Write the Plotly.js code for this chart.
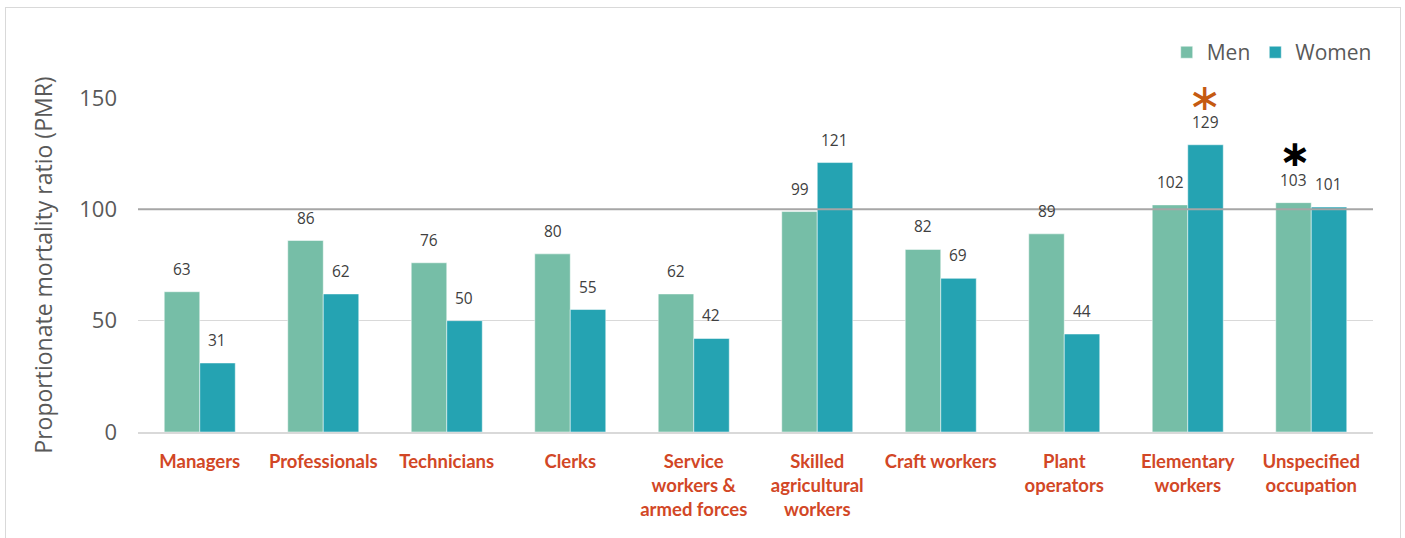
<!DOCTYPE html>
<html>
<head>
<meta charset="utf-8">
<script src="https://cdn.plot.ly/plotly-3.0.1.min.js"></script>
<style>
html,body{margin:0;padding:0;background:#fff;}
#chart{width:1405px;height:538px;}
#frame{position:absolute;left:5px;top:7px;width:1394px;height:540px;border:1px solid #d9d9d9;pointer-events:none;}
</style>
</head>
<body>
<div id="chart"></div>
<div id="frame"></div>
<script>
const categories = ["Managers","Professionals","Technicians","Clerks","Service<br>workers &amp;<br>armed forces","Skilled<br>agricultural<br>workers","Craft workers","Plant<br>operators","Elementary<br>workers","Unspecified<br>occupation"];
const men = [63,86,76,80,62,99,82,89,102,103];
const women = [31,62,50,55,42,121,69,44,129,101];
const yTicks = [0,50,100,150];
const referenceLevel = 100;
const orangeStarCategory = 8; // Elementary workers, women
const blackStarCategory = 9;  // Unspecified occupation, men

const menColor = "#76BEA7";
const womenColor = "#25A3B2";

const traces = [
  {type:"bar", name:"Men", x:categories, y:men, marker:{color:menColor, line:{color:"#ffffff", width:0.5}}, hoverinfo:"y"},
  {type:"bar", name:"Women", x:categories, y:women, marker:{color:womenColor, line:{color:"#ffffff", width:0.5}}, hoverinfo:"y"}
];

const annotations = [];
const halfBar = 17.7;
const labelFont = {family:"Open Sans, Lato, sans-serif", size:15.5, color:"#404040"};
categories.forEach((c,i)=>{
  annotations.push({x:c, y:men[i], xref:"x", yref:"y", text:String(men[i]), showarrow:false, xshift:-halfBar, yshift:10, yanchor:"bottom", font:labelFont});
  annotations.push({x:c, y:women[i], xref:"x", yref:"y", text:String(women[i]), showarrow:false, xshift:halfBar, yshift:10, yanchor:"bottom", font:labelFont});
});
annotations.push({x:categories[orangeStarCategory], y:women[orangeStarCategory], xref:"x", yref:"y", text:"∗", showarrow:false, xshift:halfBar, yshift:47, yanchor:"middle", height:24, valign:"middle", font:{family:"DejaVu Sans, sans-serif", size:40, color:"#C55A11"}});
annotations.push({x:categories[blackStarCategory], y:men[blackStarCategory], xref:"x", yref:"y", text:"<b>∗</b>", showarrow:false, xshift:-halfBar+1, yshift:49, yanchor:"middle", height:24, valign:"middle", font:{family:"DejaVu Sans, sans-serif", size:38, color:"#000000"}});

const layout = {
  width:1405, height:538,
  margin:{l:138, r:32, t:97.5, b:106},
  paper_bgcolor:"#ffffff", plot_bgcolor:"#ffffff",
  barmode:"group", bargap:0.425, bargroupgap:0,
  font:{family:"Open Sans, Lato, sans-serif", color:"#595959"},
  xaxis:{
    type:"category", showgrid:false, showline:true, linecolor:"#d9d9d9", linewidth:2,
    ticks:"", tickfont:{family:"Lato, Open Sans, sans-serif", size:18.5, color:"#D24726", weight:"bold"},
    ticklabelstandoff:12, automargin:false
  },
  yaxis:{
    range:[0,150], tickvals:yTicks, showgrid:true, gridcolor:"#d9d9d9", gridwidth:1.5,
    zeroline:false, showline:false, ticks:"",
    tickfont:{family:"Open Sans, Lato, sans-serif", size:22, color:"#595959"},
    ticklabelstandoff:20,
    title:{text:"Proportionate mortality ratio (PMR)", font:{family:"Open Sans, Lato, sans-serif", size:23, color:"#595959"}, standoff:20},
    automargin:false
  },
  shapes:[
    {type:"line", xref:"paper", yref:"y", x0:0, x1:1, y0:referenceLevel, y1:referenceLevel, line:{color:"#A6A6A6", width:2}, layer:"above"}
  ],
  legend:{orientation:"h", x:1.003, xanchor:"right", y:1.136, yanchor:"middle", font:{family:"Open Sans, Lato, sans-serif", size:21, color:"#595959"}, itemwidth:30, traceorder:"normal"},
  annotations:annotations
};

Plotly.newPlot("chart", traces, layout, {displayModeBar:false, staticPlot:true});
</script>
</body>
</html>
